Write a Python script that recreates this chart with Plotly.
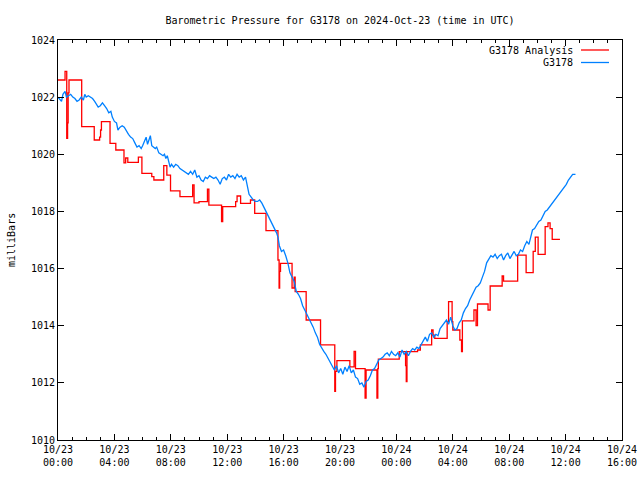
import pandas as pd
import plotly.graph_objects as go

BASE = pd.Timestamp("2024-10-23 00:00")

# G3178 observed pressure (hours since 10/23 00:00 UTC, milliBars)
obs_hours = [0.0, 0.1, 0.25, 0.35, 0.5, 0.6, 0.75, 0.9, 1.05, 1.2, 1.35, 1.5, 1.65, 1.8, 1.9, 2.0,
             2.15, 2.3, 2.45, 2.6, 2.75, 2.85, 3.0, 3.15, 3.3, 3.45, 3.6, 3.75, 3.85, 4.0, 4.15, 4.25,
             4.4, 4.55, 4.7, 4.85, 5.0, 5.15, 5.3, 5.45, 5.6, 5.75, 5.9, 6.0, 6.15, 6.25, 6.35, 6.45,
             6.55, 6.65, 6.75, 6.9, 7.0, 7.15, 7.3, 7.45, 7.55, 7.65, 7.75, 7.85, 7.95, 8.05, 8.2, 8.35,
             8.5, 8.65, 8.8, 8.95, 9.1, 9.25, 9.4, 9.55, 9.7, 9.85, 10.0, 10.15, 10.3, 10.45, 10.6, 10.75,
             10.9, 11.05, 11.2, 11.35, 11.5, 11.65, 11.8, 11.95, 12.1, 12.25, 12.4, 12.55, 12.7, 12.85, 13.0, 13.15,
             13.3, 13.45, 13.55, 13.7, 13.85, 14.0, 14.15, 14.3, 14.45, 14.6, 14.75, 14.9, 15.05, 15.2, 15.35, 15.5,
             15.6, 15.7, 15.85, 16.0, 16.15, 16.3, 16.45, 16.6, 16.75, 16.9, 17.05, 17.2, 17.35, 17.5, 17.65, 17.8,
             17.95, 18.1, 18.25, 18.4, 18.55, 18.7, 18.85, 19.0, 19.15, 19.3, 19.45, 19.6, 19.75, 19.9, 20.05, 20.2,
             20.35, 20.5, 20.65, 20.8, 20.95, 21.1, 21.25, 21.4, 21.55, 21.7, 21.85, 22.0, 22.15, 22.3, 22.45, 22.6,
             22.75, 22.9, 23.05, 23.2, 23.35, 23.5, 23.65, 23.8, 23.95, 24.1, 24.25, 24.4, 24.55, 24.7, 24.85, 25.0,
             25.15, 25.3, 25.45, 25.6, 25.75, 25.9, 26.05, 26.2, 26.35, 26.5, 26.65, 26.8, 26.95, 27.1, 27.25, 27.4,
             27.55, 27.7, 27.85, 28.0, 28.15, 28.3, 28.45, 28.6, 28.75, 28.9, 29.05, 29.2, 29.35, 29.5, 29.65, 29.8,
             29.95, 30.1, 30.25, 30.4, 30.55, 30.7, 30.85, 31.0, 31.15, 31.3, 31.45, 31.6, 31.75, 31.9, 32.05, 32.2,
             32.35, 32.5, 32.65, 32.8, 32.95, 33.1, 33.25, 33.4, 33.55, 33.65, 33.8, 33.95, 34.1, 34.25, 34.4, 34.55,
             34.7, 34.85, 35.0, 35.15, 35.3, 35.45, 35.6, 35.75, 35.9, 36.05, 36.2, 36.35, 36.5, 36.7]
obs_mb = [1022.0, 1021.95, 1021.85, 1022.1, 1022.2, 1022.0, 1022.05, 1022.1, 1022.0, 1021.95, 1021.85, 1021.9, 1022.0, 1021.9, 1022.1, 1022.0,
          1022.05, 1022.0, 1021.95, 1021.85, 1021.75, 1021.65, 1021.7, 1021.8, 1021.7, 1021.6, 1021.45, 1021.5, 1021.3, 1021.15, 1021.1, 1020.85,
          1020.95, 1021.0, 1020.95, 1020.8, 1020.7, 1020.6, 1020.55, 1020.4, 1020.25, 1020.3, 1020.2, 1020.3, 1020.45, 1020.6, 1020.35, 1020.5,
          1020.65, 1020.3, 1020.25, 1020.2, 1020.25, 1020.05, 1020.0, 1019.95, 1020.0, 1019.85, 1019.95, 1019.7, 1019.55, 1019.65, 1019.55, 1019.65,
          1019.6, 1019.5, 1019.45, 1019.4, 1019.35, 1019.3, 1019.4, 1019.3, 1019.45, 1019.2, 1019.25, 1019.1, 1019.05, 1019.2, 1019.15, 1019.25,
          1019.2, 1019.15, 1019.2, 1019.1, 1018.95, 1019.15, 1019.2, 1019.1, 1019.3, 1019.2, 1019.25, 1019.15, 1019.3, 1019.2, 1019.25, 1019.1,
          1019.2, 1018.9, 1018.6, 1018.5, 1018.4, 1018.35, 1018.35, 1018.4, 1018.3, 1018.15, 1018.0, 1017.85, 1017.7, 1017.6, 1017.45, 1017.25,
          1017.1, 1016.8, 1016.6, 1016.65, 1016.45, 1016.2, 1015.85, 1015.7, 1015.55, 1015.2, 1015.1, 1014.95, 1014.7, 1014.55, 1014.4, 1014.25,
          1014.15, 1013.95, 1013.75, 1013.6, 1013.35, 1013.2, 1013.1, 1013.0, 1012.85, 1012.7, 1012.55, 1012.45, 1012.6, 1012.35, 1012.5, 1012.3,
          1012.55, 1012.4, 1012.6, 1012.35, 1012.45, 1012.2, 1012.15, 1011.95, 1012.0, 1011.85, 1012.05, 1012.1, 1012.25, 1012.45, 1012.5, 1012.65,
          1012.8, 1012.85, 1012.9, 1013.0, 1013.05, 1012.95, 1013.1, 1013.0, 1012.95, 1013.05, 1012.9, 1013.15, 1013.0, 1013.1, 1012.95, 1013.1,
          1013.2, 1013.15, 1013.25, 1013.2, 1013.35, 1013.5, 1013.6, 1013.45, 1013.7, 1013.75, 1013.6, 1013.7, 1013.65, 1013.9, 1014.0, 1014.1,
          1014.2, 1014.05, 1014.3, 1014.0, 1013.85, 1013.9, 1014.1, 1014.2, 1014.45, 1014.6, 1014.7, 1014.9, 1015.05, 1015.15, 1015.35, 1015.4,
          1015.5, 1015.7, 1015.9, 1016.2, 1016.35, 1016.45, 1016.4, 1016.5, 1016.35, 1016.45, 1016.5, 1016.3, 1016.45, 1016.55, 1016.35, 1016.5,
          1016.6, 1016.45, 1016.5, 1016.65, 1016.6, 1016.8, 1016.95, 1016.85, 1017.1, 1017.35, 1017.4, 1017.55, 1017.65, 1017.7, 1017.85, 1018.0,
          1018.05, 1018.15, 1018.25, 1018.35, 1018.45, 1018.55, 1018.65, 1018.75, 1018.85, 1018.95, 1019.1, 1019.2, 1019.3, 1019.3]

# G3178 Analysis (step values)
ana_hours = [0.0, 0.5, 0.62, 0.68, 0.72, 0.78, 1.68, 2.57, 2.95, 3.02, 3.08, 3.69, 4.1, 4.68, 4.8, 4.95,
             5.7, 5.95, 6.65, 6.8, 7.5, 7.72, 7.98, 8.65, 9.55, 9.65, 10.0, 10.6, 10.7, 11.6, 11.68, 12.6,
             12.7, 12.95, 13.65, 13.95, 14.75, 15.6, 15.68, 15.72, 15.78, 16.6, 16.75, 16.82, 17.6, 18.62, 19.63, 19.68,
             19.78, 20.7, 21.0, 21.1, 21.78, 21.85, 22.62, 22.68, 22.72, 24.2, 24.65, 24.7, 24.75, 25.5, 25.7, 26.5,
             26.6, 26.72, 27.6, 27.7, 27.95, 28.0, 28.5, 28.62, 28.68, 29.5, 29.65, 29.75, 30.5, 30.65, 31.5, 31.6,
             32.6, 33.2, 33.7, 33.85, 34.05, 34.55, 34.75, 34.9, 35.05, 35.6]
ana_mb = [1022.6, 1022.9, 1020.56, 1021.1, 1022.15, 1022.6, 1020.97, 1020.5, 1020.6, 1020.85, 1021.14, 1020.38, 1020.15, 1019.7, 1019.87, 1019.72,
          1019.9, 1019.33, 1019.22, 1019.1, 1019.6, 1019.27, 1018.72, 1018.52, 1018.93, 1018.3, 1018.34, 1018.78, 1018.22, 1017.64, 1018.17, 1018.34,
          1018.54, 1018.28, 1018.4, 1017.93, 1017.33, 1016.3, 1015.32, 1015.9, 1016.18, 1015.32, 1015.7, 1015.19, 1014.2, 1013.33, 1011.7, 1012.4,
          1012.78, 1012.56, 1013.1, 1012.5, 1011.47, 1012.45, 1011.47, 1012.5, 1012.83, 1013.09, 1012.6, 1012.04, 1013.09, 1013.15, 1013.33, 1013.85,
          1013.67, 1013.56, 1014.14, 1014.84, 1014.14, 1013.85, 1013.5, 1013.09, 1014.17, 1014.55, 1014.0, 1014.76, 1014.55, 1015.39, 1015.74, 1015.56,
          1016.47, 1015.86, 1016.6, 1017.1, 1016.5, 1017.47, 1017.6, 1017.4, 1017.02, 1017.02]

title_text = "Barometric Pressure for G3178 on 2024-Oct-23 (time in UTC)"
y_label = "milliBars"
series_names = ["G3178 Analysis", "G3178"]
series_colors = ["#ff0000", "#0080ff"]

def to_time(hours):
    return BASE + pd.to_timedelta(hours, unit="h")

FONT = "DejaVu Sans Mono"

fig = go.Figure()
fig.add_trace(go.Scatter(x=to_time(ana_hours), y=ana_mb, mode="lines", name=series_names[0],
                         line=dict(color=series_colors[0], width=1.3, shape="hv")))
fig.add_trace(go.Scatter(x=to_time(obs_hours), y=obs_mb, mode="lines", name=series_names[1],
                         line=dict(color=series_colors[1], width=1.3)))

W, H = 640, 480
L, T = 58, 40
pw, ph = 564, 400
R, B = W - L - pw, H - T - ph

def px_x(px):
    return (px - L) / pw

def px_y(py):
    return (T + ph - py) / ph

fig.update_layout(
    width=W, height=H,
    margin=dict(l=L, r=R, t=T, b=B, pad=0, autoexpand=False),
    paper_bgcolor="white", plot_bgcolor="white",
    showlegend=False,
    hovermode=False,
    font=dict(family=FONT, size=10, color="black"),
    title=dict(text=title_text, x=0.5, xref="paper", y=1 - 20 / H, yref="container",
               xanchor="center", yanchor="middle", font=dict(family=FONT, size=10, color="black")),
    xaxis=dict(
        type="date",
        range=[BASE, BASE + pd.Timedelta(hours=40)],
        tick0=BASE, dtick=4 * 3600 * 1000,
        tickformat="%m/%d<br>%H:%M",
        ticks="inside", ticklen=6, tickcolor="black", tickwidth=1,
        showline=True, linecolor="black", linewidth=1, mirror="allticks",
        showgrid=False, zeroline=False,
        minor=dict(dtick=3600 * 1000, ticks="inside", ticklen=3, tickcolor="black", showgrid=False),
        tickfont=dict(family=FONT, size=10),
    ),
    yaxis=dict(
        range=[1010, 1024], dtick=2, tick0=1010,
        ticks="inside", ticklen=6, tickcolor="black", tickwidth=1,
        showline=True, linecolor="black", linewidth=1, mirror="allticks",
        showgrid=False, zeroline=False,
        tickfont=dict(family=FONT, size=10),
    ),
)

fig.add_annotation(text=y_label, xref="paper", yref="paper", x=px_x(11), y=0.5,
                   textangle=-90, showarrow=False, xanchor="center", yanchor="middle",
                   font=dict(family=FONT, size=10))

# gnuplot-style key: text right-aligned, then line sample
for i, (name, col) in enumerate(zip(series_names, series_colors)):
    yy = px_y(50 + 12.5 * i)
    fig.add_annotation(text=name, xref="paper", yref="paper", x=px_x(575), y=yy,
                       showarrow=False, xanchor="right", yanchor="middle",
                       font=dict(family=FONT, size=10))
    fig.add_shape(type="line", xref="paper", yref="paper", x0=px_x(581), x1=px_x(609),
                  y0=yy, y1=yy, line=dict(color=col, width=1.3))

fig.write_html("out.html", config={"displayModeBar": False, "staticPlot": True},
               post_script="document.body.style.margin='0';document.body.style.overflow='hidden';")
